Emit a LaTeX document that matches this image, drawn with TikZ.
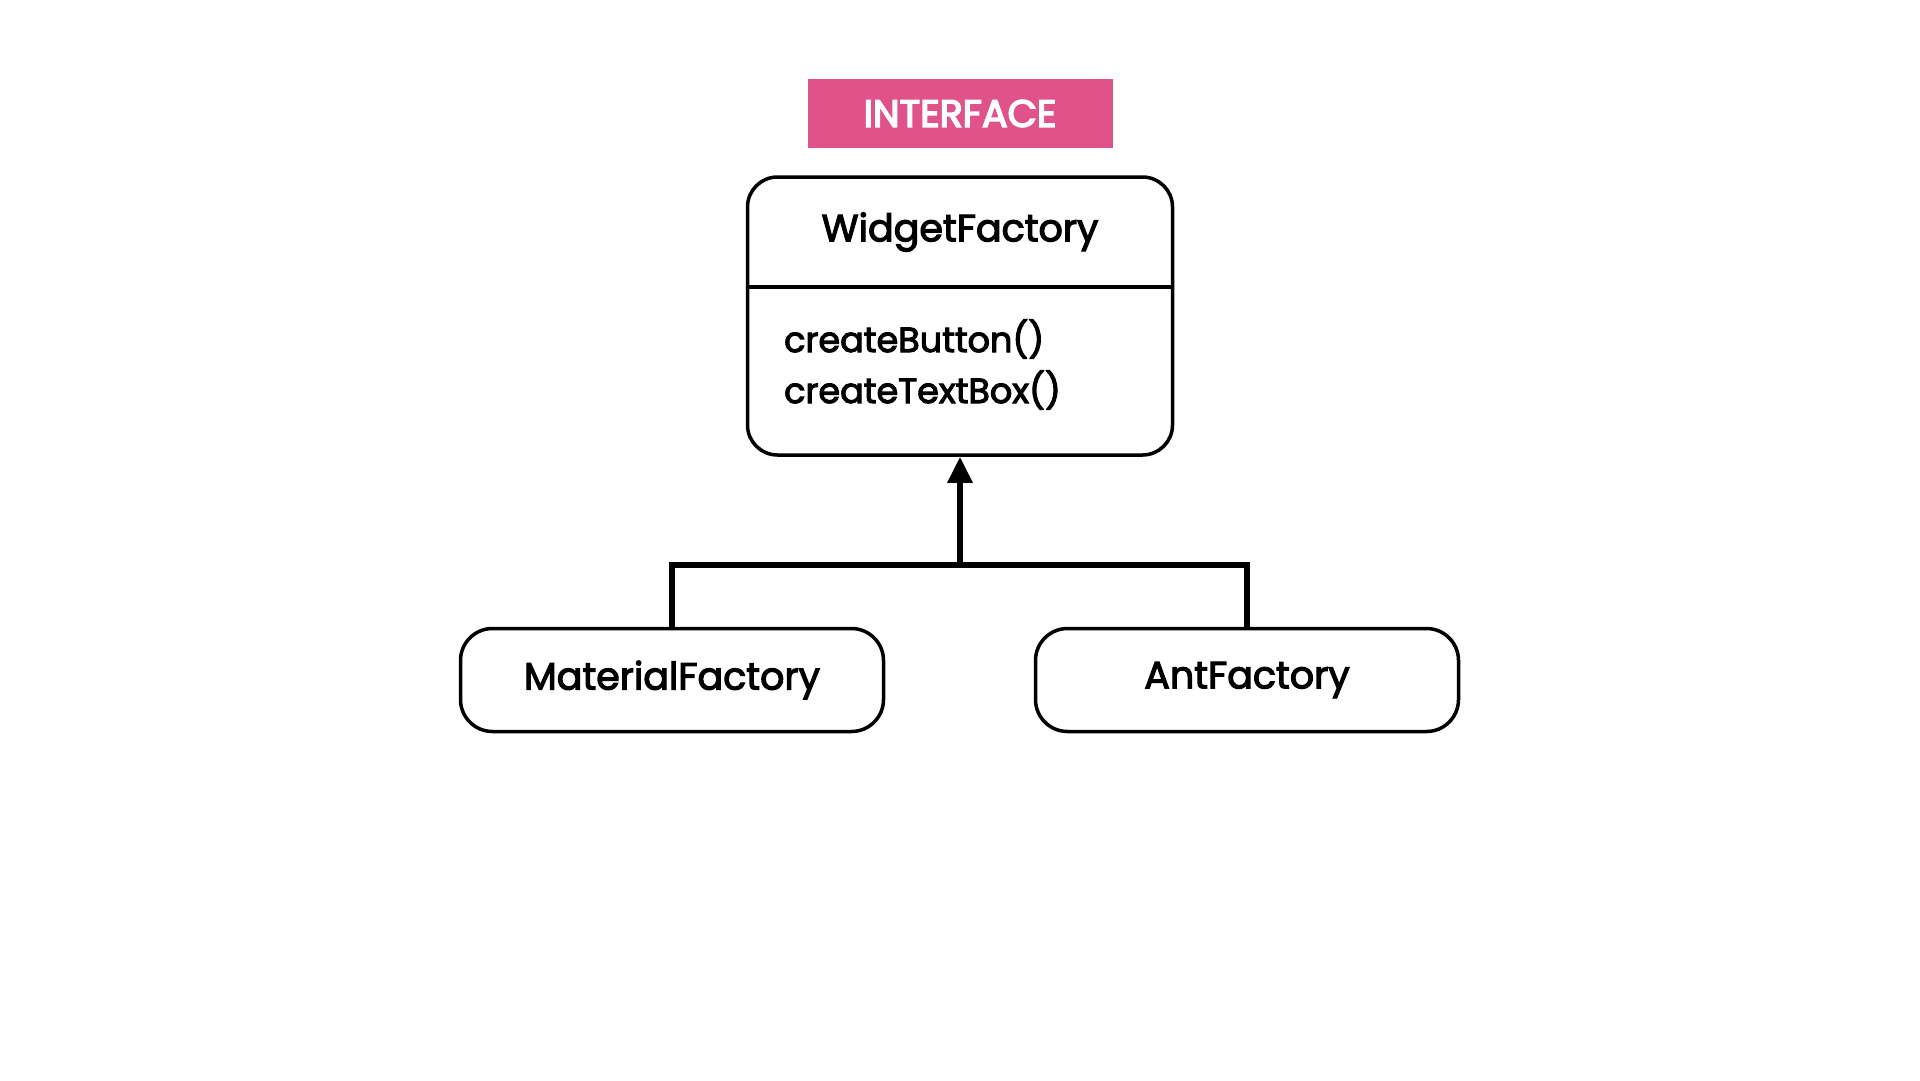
\documentclass[tikz,border=0pt]{standalone}
\usepackage{fontspec}
\setmainfont{Poppins}
\newfontfamily\medfont{Poppins}[FakeBold=3]
\newfontfamily\semifont{Poppins}[FakeBold=4]
\usetikzlibrary{positioning,arrows.meta}
\definecolor{ifacepink}{RGB}{224,82,138}

\tikzset{
  tagbox/.style={fill=ifacepink, text=white, minimum width=305pt, minimum height=69pt,
    inner sep=0pt, font=\semifont\fontsize{38}{40}\selectfont},
  classbox/.style={draw, line width=3.5pt, rounded corners=32pt, fill=white,
    minimum width=423pt, minimum height=103pt, inner sep=0pt,
    font=\medfont\fontsize{38}{44}\selectfont},
  titletext/.style={font=\medfont\fontsize{38}{44}\selectfont, inner sep=0pt},
  methodtext/.style={font=\medfont\fontsize{35}{40}\selectfont, inner sep=0pt, anchor=base west},
  link/.style={line width=6pt},
}

\begin{document}
\begin{tikzpicture}[x=1pt,y=-1pt]
	\useasboundingbox (0,0) rectangle (1920,1080);

	%INTERFACE TAG
	\node[tagbox] (iface) at (960,113.5) {INTERFACE};

	%WIDGET FACTORY
	\node[classbox, minimum width=425pt, minimum height=278pt, rounded corners=30pt] (widget) at (960,316) {};
	\coordinate (split) at (960,287);
	\draw[line width=3.5pt] (widget.west |- split) -- (widget.east |- split);
	\node[titletext] (widgettitle) at (960,232) {WidgetFactory};
	\node[methodtext] (button) at (784,352) {createButton()};
	\node[methodtext] (textbox) at (784,403) {createTextBox()};

	%CONCRETE FACTORIES
	\node[classbox] (material) at (672,680) {MaterialFactory};
	\node[classbox] (ant) at (1247,680) {AntFactory};

	%INHERITANCE
	\coordinate (join) at (960,565);
	\draw[link] (material.north) |- (join) -| (ant.north);
	\draw[link,-{Triangle[length=26pt,width=24pt]}] (join) -- (widget.south);
\end{tikzpicture}
\end{document}
